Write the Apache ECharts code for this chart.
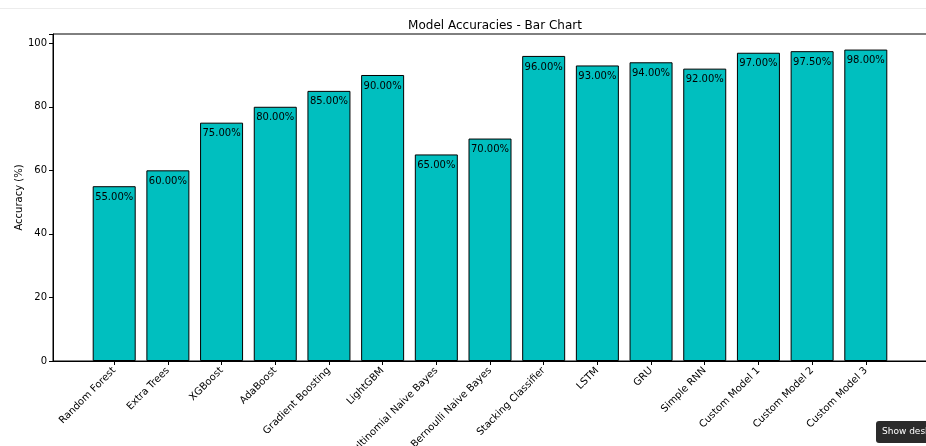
<!DOCTYPE html>
<html>
<head>
<meta charset="utf-8">
<script src="https://cdn.jsdelivr.net/npm/echarts@6/dist/echarts.min.js"></script>
<style>
    html, body { margin: 0; padding: 0; background: #fff; }
    #chart { width: 926px; height: 446px; }
</style>
</head>
<body>
<div id="chart"></div>
<script>
const models = [
    'Random Forest', 'Extra Trees', 'XGBoost', 'AdaBoost', 'Gradient Boosting',
    'LightGBM', 'Multinomial Naive Bayes', 'Bernoulli Naive Bayes', 'Stacking Classifier',
    'LSTM', 'GRU', 'Simple RNN', 'Custom Model 1', 'Custom Model 2', 'Custom Model 3'
];
const accuracies = [55, 60, 75, 80, 85, 90, 65, 70, 96, 93, 94, 92, 97, 97.5, 98];
const yTicks = [0, 20, 40, 60, 80, 100];

const FONT = 'DejaVu Sans';

/**
 * 막대 차트 초기화
 */
function initChart() {
    const chart = echarts.init(document.getElementById('chart'));
    const positions = models.map((_, i) => i);

    const option = {
        animation: false,
        textStyle: { fontFamily: FONT },
        title: {
            text: 'Model Accuracies - Bar Chart',
            left: 490,
            top: 15,
            textAlign: 'center',
            textStyle: { fontFamily: FONT, fontSize: 12, fontWeight: 'normal', color: '#000' }
        },
        grid: {
            left: 53,
            top: 34,
            width: 874,
            height: 327,
            containLabel: false,
            outerBoundsMode: 'none',
            show: true,
            borderColor: '#000',
            borderWidth: 1,
            backgroundColor: 'transparent'
        },
        xAxis: {
            type: 'value',
            min: -1.14,
            max: 15.14,
            splitLine: { show: false },
            axisLine: { show: true, onZero: false, lineStyle: { color: '#000', width: 1 } },
            axisTick: {
                show: true,
                customValues: positions,
                length: 4,
                lineStyle: { color: '#000' }
            },
            axisLabel: {
                customValues: positions,
                rotate: 45,
                margin: 8,
                fontSize: 10,
                color: '#000',
                fontFamily: FONT,
                formatter: v => models[Math.round(v)]
            }
        },
        yAxis: {
            type: 'value',
            min: 0,
            max: 102.9,
            interval: 20,
            name: 'Accuracy (%)',
            nameLocation: 'middle',
            nameGap: 29,
            nameMoveOverlap: false,
            nameTextStyle: { fontFamily: FONT, fontSize: 10, color: '#000' },
            splitLine: { show: false },
            axisLine: { show: true, onZero: false, lineStyle: { color: '#000', width: 1 } },
            axisTick: { show: true, length: 4, lineStyle: { color: '#000' } },
            axisLabel: {
                fontSize: 10,
                color: '#000',
                fontFamily: FONT,
                margin: 6,
                formatter: v => (yTicks.includes(v) ? String(v) : '')
            }
        },
        series: [{
            type: 'bar',
            barWidth: 43,
            data: accuracies.map((v, i) => [i, v]),
            itemStyle: {
                color: '#00bfbf',
                borderColor: '#000',
                borderWidth: 1
            },
            label: {
                show: true,
                position: 'insideTop',
                distance: 6,
                fontSize: 10,
                color: '#000',
                fontFamily: FONT,
                formatter: p => p.value[1].toFixed(2) + '%'
            }
        }],
        graphic: [
            {
                type: 'line',
                shape: { x1: 0, y1: 8.5, x2: 926, y2: 8.5 },
                style: { stroke: '#ececec', lineWidth: 1 }
            },
            {
                type: 'group',
                left: 876,
                top: 421,
                children: [
                    {
                        type: 'rect',
                        shape: { x: 0, y: 0, width: 70, height: 22, r: 3 },
                        style: { fill: '#2b2b2b' }
                    },
                    {
                        type: 'text',
                        x: 6,
                        y: 6,
                        style: { text: 'Show desktop', fill: '#fff', font: '9px ' + FONT }
                    }
                ]
            }
        ]
    };
    chart.setOption(option);
}

document.addEventListener('DOMContentLoaded', function () {
    initChart();
});
</script>
</body>
</html>
